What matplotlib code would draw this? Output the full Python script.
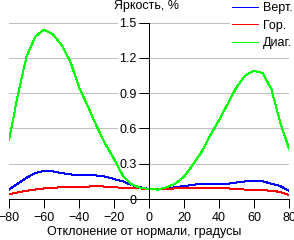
import matplotlib
matplotlib.use('Agg')
import matplotlib.pyplot as plt

plt.rcParams['font.family'] = ['Liberation Sans', 'DejaVu Sans']
plt.rcParams['font.size'] = 9

# угол отклонения, градусы
angles = [-80, -75, -70, -65, -60, -55, -50, -45, -40, -35, -30, -25, -20, -15, -10, -5, 0,
          5, 10, 15, 20, 25, 30, 35, 40, 45, 50, 55, 60, 65, 70, 75, 80]

# яркость, %
vert = [0.08, 0.13, 0.18, 0.22, 0.24, 0.235, 0.22, 0.21, 0.20, 0.20, 0.20, 0.19, 0.17, 0.15, 0.12, 0.10, 0.085,
        0.085, 0.09, 0.10, 0.11, 0.12, 0.13, 0.13, 0.13, 0.13, 0.14, 0.15, 0.15, 0.15, 0.13, 0.11, 0.07]
hor = [0.04, 0.055, 0.07, 0.08, 0.09, 0.095, 0.10, 0.10, 0.10, 0.105, 0.11, 0.105, 0.10, 0.095, 0.09, 0.09, 0.085,
       0.085, 0.085, 0.09, 0.09, 0.09, 0.09, 0.09, 0.09, 0.09, 0.085, 0.08, 0.08, 0.075, 0.07, 0.06, 0.035]
diag = [0.50, 0.88, 1.21, 1.38, 1.44, 1.40, 1.31, 1.17, 0.95, 0.79, 0.62, 0.47, 0.34, 0.20, 0.125, 0.095, 0.085,
        0.08, 0.10, 0.13, 0.19, 0.29, 0.40, 0.54, 0.67, 0.81, 0.95, 1.05, 1.09, 1.07, 0.93, 0.65, 0.43]

yticks = [0, 0.3, 0.6, 0.9, 1.2, 1.5]
ytick_labels = ['0', '0.3', '0.6', '0.9', '1.2', '1.5']
xticks = [-80, -60, -40, -20, 0, 20, 40, 60, 80]

fig = plt.figure(figsize=(2.94, 2.40), dpi=100)
ax = fig.add_axes([9 / 294, 41 / 240, 280 / 294, 176.5 / 240])

lw = 0.72  # 1 пиксель
ax.plot(angles, vert, color='#0000ff', lw=lw, label='Верт.', antialiased=False)
ax.plot(angles, hor, color='#ff0000', lw=lw, label='Гор.', antialiased=False)
ax.plot(angles, diag, color='#00ff00', lw=lw, label='Диаг.', antialiased=False)

ax.set_xlim(-80, 80)
ax.set_ylim(0, 1.5)

# оси проходят через ноль
ax.spines['left'].set_position(('data', 0))
ax.spines['top'].set_visible(False)
ax.spines['right'].set_visible(False)
ax.spines['left'].set_linewidth(lw)
ax.spines['bottom'].set_linewidth(lw)

ax.set_xticks(xticks)
ax.set_yticks(yticks, ytick_labels)
ax.tick_params(axis='x', direction='out', length=6.5, width=lw, pad=3)
ax.tick_params(axis='y', direction='out', length=7, width=lw, pad=2)
for lab in ax.get_yticklabels():
    lab.set_bbox(dict(facecolor='white', edgecolor='none', pad=1))

ax.set_axisbelow(True)
ax.yaxis.grid(True, color='#c0c0c0', lw=lw)

leg = ax.legend(loc='upper left', bbox_to_anchor=(230 / 294, 1.0), bbox_transform=fig.transFigure,
                frameon=True, fancybox=False, edgecolor='none', facecolor='white', framealpha=1,
                borderpad=0.15, borderaxespad=0, labelspacing=0.45, handlelength=2.1, handletextpad=0.4)

fig.text(147 / 294, 1 - 5.5 / 240, 'Яркость, %', ha='center', va='center')
fig.text(144 / 294, 1 - 232 / 240, 'Отклонение от нормали, градусы', ha='center', va='center')

fig.savefig('out.png', dpi=100)
